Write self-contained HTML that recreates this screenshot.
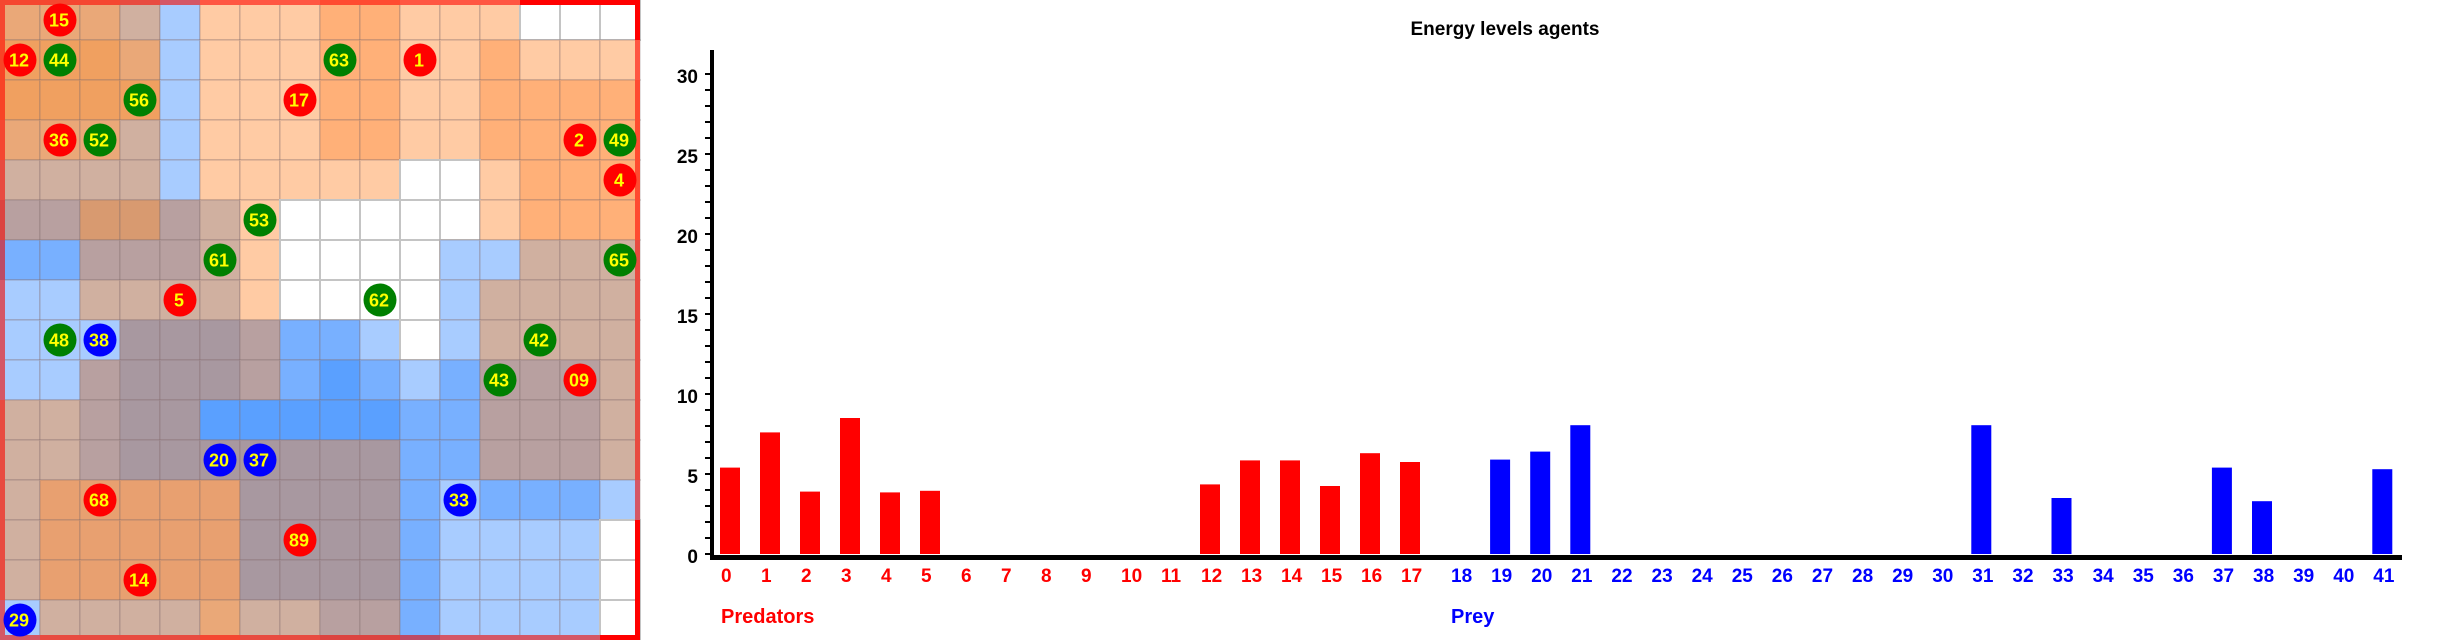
<!DOCTYPE html>
<html><head><meta charset="utf-8">
<style>
html,body{margin:0;padding:0;background:#fff;}
body{width:2440px;height:640px;overflow:hidden;font-family:"Liberation Sans",sans-serif;}
svg{display:block;}
</style></head>
<body>
<svg id="root" width="2440" height="640" xmlns="http://www.w3.org/2000/svg">
  <g id="grid"></g>
  <g id="agents"></g>
  <g id="chart">
    <text x="1505" y="35" text-anchor="middle" font-size="19" font-weight="bold" fill="#000">Energy levels agents</text>
    <text x="721" y="623" font-size="20" font-weight="bold" fill="#ff0000">Predators</text>
    <text x="1451" y="623" font-size="20" font-weight="bold" fill="#0000ff">Prey</text>
  </g>
</svg>
<script>
// ---- grid data ----
const cellColors = {
  P:'#ffcba4', O:'#ffb078', D:'#eaa878', E:'#f0a060', T:'#d0b0a0', G:'#b8a0a0', H:'#a898a0',
  L:'#a8ccff', B:'#78b0ff', K:'#5aa0ff', W:'#ffffff', C:'#d89a70', A:'#e8a070'
};
const gridRows = [
  'DDDTLPPPOOPPPWWW',
  'EEEDLPPPOOPPOPPP',
  'EEEELPPPOOPPOOOO',
  'DDDTLPPPOOPPOOOO',
  'TTTTLPPPPPWWPOOO',
  'GGCCGTPWWWWWPOOO',
  'BBGGGTPWWWWLLTTT',
  'LLTTTTPWWWWLTTTT',
  'LLLHHHGBBLWLTTTT',
  'LLGHHHGBKBLBGGGT',
  'TTGHHKKKKKBBGGGT',
  'TTGHHHHHHHBBGGGT',
  'TAAAAAHHHHBLBBBL',
  'TAAAAAHHHHBLLLLW',
  'TAAAAAHHHHBLLLLW',
  'LTTTTDTTGGBLLLLW'
];
const agentCols  = [1,0,1,8,10,3,7,1,2,14,15,15,6,5,15,4,9,1,2,13,12,14,5,6,11,2,7,3,0];
const agentRows  = [0,1,1,1,1,2,2,3,3,3,3,4,5,6,6,7,7,8,8,8,9,9,11,11,12,12,13,14,15];
const agentIds   = ['15','12','44','63','1','56','17','36','52','2','49','4','53','61','65','5','62','48','38','42','43','09','20','37','33','68','89','14','29'];
const agentTypes = ['r','r','g','g','r','g','r','r','g','r','g','r','g','g','g','r','g','g','b','g','g','r','b','b','b','r','r','r','b'];

// ---- chart data ----
const predatorIds = [0,1,2,3,4,5,6,7,8,9,10,11,12,13,14,15,16,17];
const predatorEnergy = [5.4,7.6,3.9,8.5,3.85,3.95,0,0,0,0,0,0,4.35,5.85,5.85,4.25,6.3,5.75];
const preyIds = [18,19,20,21,22,23,24,25,26,27,28,29,30,31,32,33,34,35,36,37,38,39,40,41];
const preyEnergy = [0,5.9,6.4,8.05,0,0,0,0,0,0,0,0,0,8.05,0,3.5,0,0,0,5.4,3.3,0,0,5.3];
const yTicks = [0,5,10,15,20,25,30];

const NS='http://www.w3.org/2000/svg';
function mk(tag, attrs, parent){const e=document.createElementNS(NS,tag);for(const k in attrs)e.setAttribute(k,attrs[k]);parent.appendChild(e);return e;}

// grid
const grid=document.getElementById('grid');
const CS=40;
function mixRed(hex){const r=parseInt(hex.slice(1,3),16),g=parseInt(hex.slice(3,5),16),b=parseInt(hex.slice(5,7),16);
  const a=0.5;return `rgb(${Math.round(255*a+r*(1-a))},${Math.round(g*(1-a)*0.85)},${Math.round(b*(1-a)*0.8)})`;}
for(let r=0;r<16;r++){for(let c=0;c<16;c++){
  const col=cellColors[gridRows[r][c]];
  const cell=mk('rect',{x:c*CS,y:r*CS,width:CS,height:CS,fill:col,stroke:col==='#ffffff'?'#c4c4c4':'rgba(130,110,110,0.22)','stroke-width':2},grid);
  
  
}}
// border segments
for(let i=0;i<16;i++){
  const segs=[[i*CS,0,CS,5,gridRows[0][i]],[i*CS,635,CS,5,gridRows[15][i]],[0,i*CS,5,CS,gridRows[i][0]],[635,i*CS,5,CS,gridRows[i][15]]];
  segs.forEach(s=>{const col=cellColors[s[4]];
    const fill=col==='#ffffff'?'#ff0000':mixRed(col);
    const b=mk('rect',{x:s[0],y:s[1],width:s[2],height:s[3],fill:fill},grid);
    
    
  });
}
// agents
const agents=document.getElementById('agents');
const typeFill={r:'#ff0000',g:'#008000',b:'#0000ff'};
for(let i=0;i<agentIds.length;i++){
  const cx=agentCols[i]*CS+20, cy=agentRows[i]*CS+20;
  const g=mk('g',{},agents);
  
  
  mk('circle',{cx:cx,cy:cy,r:16.5,fill:typeFill[agentTypes[i]]},g);
  const t=mk('text',{x:cx-1,y:cy+6.5,'text-anchor':'middle','font-size':18,'font-weight':'bold',fill:'#ffff00'},g);
  t.textContent=agentIds[i];
}

// chart
const chart=document.getElementById('chart');
const Y0=554, UNIT=16, AX=712;
function yScale(v){return Y0-v*UNIT;}
function predX(i){return 720+i*40;}
function preyX(j){return 1450+(j-18)*40.1;}
// y axis
const ya=mk('rect',{x:AX-2,y:50,width:4,height:Y0-50+5},chart);


for(let v=0;v<=30;v++){
  const tk=mk('rect',{x:AX-7,y:yScale(v)-1,width:6,height:2,fill:'#000'},chart);
  
  
}
yTicks.forEach(v=>{
  const t=mk('text',{x:698,y:yScale(v)+9,'text-anchor':'end','font-size':19,'font-weight':'bold',fill:'#000'},chart);
  
  
  t.textContent=v;
});
// x axis
const xa=mk('rect',{x:AX-2,y:555,width:2402-AX+2,height:5,fill:'#000'},chart);


// bars
predatorIds.forEach((id,i)=>{
  const v=predatorEnergy[i];
  if(v>0){const b=mk('rect',{x:predX(id),y:yScale(v),width:20,height:v*UNIT,fill:'#ff0000'},chart);
    
    }
  const t=mk('text',{x:predX(id)+1,y:582,'font-size':19,'font-weight':'bold',fill:'#ff0000'},chart);
  
  
  t.textContent=id;
});
preyIds.forEach((id,j)=>{
  const v=preyEnergy[j];
  if(v>0){const b=mk('rect',{x:preyX(id),y:yScale(v),width:20,height:v*UNIT,fill:'#0000ff'},chart);
    
    }
  const t=mk('text',{x:preyX(id)+1,y:582,'font-size':19,'font-weight':'bold',fill:'#0000ff'},chart);
  
  
  t.textContent=id;
});
</script>
</body></html>
